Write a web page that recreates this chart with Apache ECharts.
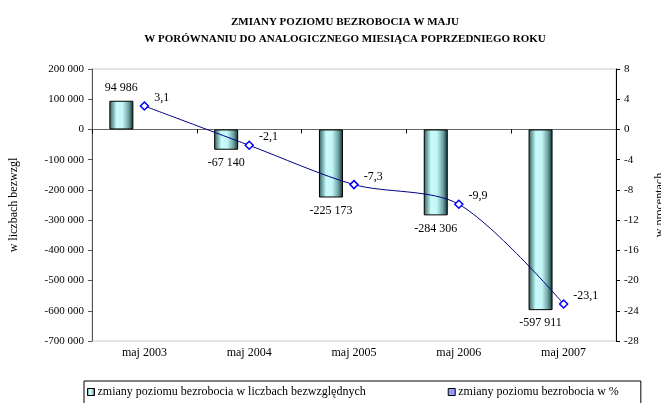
<!DOCTYPE html>
<html>
<head>
<meta charset="utf-8">
<script src="https://cdn.jsdelivr.net/npm/echarts@6/dist/echarts.min.js"></script>
<style>
  html, body { margin: 0; padding: 0; background: #fff; }
  #chartDom { width: 661px; height: 403px; }
</style>
</head>
<body>
<div id="chartDom"></div>
<script>
// dane
var categories = ['maj 2003', 'maj 2004', 'maj 2005', 'maj 2006', 'maj 2007'];
var absValues = [94986, -67140, -225173, -284306, -597911];
var pctValues = [3.1, -2.1, -7.3, -9.9, -23.1];
var barName = 'zmiany poziomu bezrobocia w liczbach bezwzględnych';
var lineName = 'zmiany poziomu bezrobocia w %';

var serif = 'Liberation Serif';

function spaced(v) {
    var s = String(Math.abs(v)).replace(/\B(?=(\d{3})+(?!\d))/g, ' ');
    return (v < 0 ? '-' : '') + s;
}

var barGradient = new echarts.graphic.LinearGradient(0, 0, 1, 0, [
    { offset: 0, color: '#2c5a5a' },
    { offset: 0.3, color: '#c8fbfb' },
    { offset: 0.55, color: '#c4f6f6' },
    { offset: 0.8, color: '#6fa3a3' },
    { offset: 1, color: '#0f2e2e' }
]);

var chartDom = echarts.init(document.getElementById('chartDom'));
chartDom.setOption({
    animation: false,
    textStyle: { fontFamily: serif, color: '#000' },
    title: {
        text: 'ZMIANY POZIOMU BEZROBOCIA W MAJU\nW PORÓWNANIU DO ANALOGICZNEGO MIESIĄCA POPRZEDNIEGO ROKU',
        left: 340,
        textAlign: 'center',
        top: 9,
        textStyle: { fontFamily: serif, fontSize: 11, fontWeight: 'bold', lineHeight: 17, color: '#000' }
    },
    legend: {
        left: 84,
        top: 381,
        padding: [5, 22, 10, 3],
        borderColor: '#000',
        borderWidth: 1,
        itemWidth: 7,
        itemHeight: 7,
        itemGap: 82,
        textStyle: { fontFamily: serif, fontSize: 12, color: '#000', padding: [0, 0, 0, -2] },
        data: [
            { name: barName, icon: 'rect', itemStyle: { color: barGradient, borderColor: '#000', borderWidth: 1 } },
            { name: lineName, icon: 'rect', itemStyle: { color: '#9999ff', borderColor: '#000', borderWidth: 1 } }
        ]
    },
    grid: {
        left: 92,
        right: 45,
        top: 69,
        bottom: 62,
        containLabel: false,
        outerBoundsMode: 'none',
        show: true,
        borderColor: '#c8c8c8',
        borderWidth: 1
    },
    xAxis: [{
        type: 'category',
        data: categories,
        position: 'bottom',
        axisLine: { show: false, onZero: false },
        axisTick: { show: false },
        axisLabel: { fontFamily: serif, fontSize: 12, color: '#000', margin: 6 }
    }, {
        type: 'category',
        data: categories,
        position: 'bottom',
        axisLine: { show: true, onZero: true, lineStyle: { color: '#666', width: 1 } },
        axisTick: { show: true, inside: false, length: 4, lineStyle: { color: '#000' } },
        axisLabel: { show: false }
    }],
    yAxis: [{
        type: 'value',
        min: -700000,
        max: 200000,
        interval: 100000,
        name: 'w liczbach bezwzgl',
        nameLocation: 'middle',
        nameRotate: 90,
        nameGap: 72,
        nameTextStyle: { fontFamily: serif, fontSize: 12, color: '#000' },
        axisLine: { show: true, lineStyle: { color: '#555' } },
        axisTick: { show: true, length: 4, lineStyle: { color: '#555' } },
        splitLine: { show: false },
        axisLabel: {
            fontFamily: serif, fontSize: 11, color: '#000', margin: 8,
            formatter: function (v) { return spaced(v); }
        }
    }, {
        type: 'value',
        min: -28,
        max: 8,
        interval: 4,
        name: 'w procentach',
        nameLocation: 'middle',
        nameRotate: 90,
        nameGap: 38,
        nameTextStyle: { fontFamily: serif, fontSize: 12, color: '#000' },
        axisLine: { show: true, lineStyle: { color: '#000' } },
        axisTick: { show: true, length: 4, lineStyle: { color: '#000' } },
        splitLine: { show: false },
        axisLabel: { fontFamily: serif, fontSize: 11, color: '#000', margin: 8 }
    }],
    series: [{
        name: barName,
        type: 'bar',
        yAxisIndex: 0,
        barWidth: 24,
        barGap: '92%',
        itemStyle: { color: barGradient, borderColor: '#000', borderWidth: 1 },
        label: {
            show: true,
            fontFamily: serif,
            fontSize: 12,
            color: '#000',
            distance: 7,
            formatter: function (p) { return spaced(p.value); }
        },
        data: absValues.map(function (v) {
            return { value: v, label: { position: v < 0 ? 'bottom' : 'top' } };
        })
    }, {
        name: 'spacer',
        type: 'bar',
        yAxisIndex: 0,
        barWidth: 24,
        data: categories.map(function () { return null; })
    }, {
        name: lineName,
        type: 'line',
        yAxisIndex: 1,
        smooth: 0.3,
        symbol: 'diamond',
        symbolSize: 8,
        lineStyle: { color: '#000080', width: 1 },
        itemStyle: { color: '#ffffff', borderColor: '#0000ff', borderWidth: 1.5 },
        label: {
            show: true,
            position: 'right',
            offset: [0, -8],
            fontFamily: serif,
            fontSize: 12,
            color: '#000',
            formatter: function (p) { return String(p.value).replace('.', ','); }
        },
        data: pctValues
    }]
});
</script>
</body>
</html>
